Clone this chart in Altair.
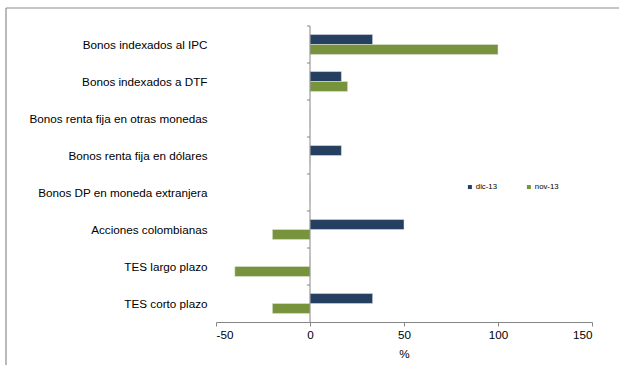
import altair as alt
import pandas as pd

# Categories top to bottom
categorias = [
    "Bonos indexados al IPC",
    "Bonos indexados a DTF",
    "Bonos renta fija en otras monedas",
    "Bonos renta fija en dólares",
    "Bonos DP en moneda extranjera",
    "Acciones colombianas",
    "TES largo plazo",
    "TES corto plazo",
]
series = ["dic-13", "nov-13"]
dic_13 = [33.3, 16.7, 0, 16.7, 0, 50, 0, 33.3]
nov_13 = [100, 20, 0, 0, 0, -20, -40, -20]
colores = ["#243F60", "#77933C"]
x_ticks = [-50, 0, 50, 100, 150]

rows = []
for cat, d, n in zip(categorias, dic_13, nov_13):
    rows.append({"categoria": cat, "serie": series[0], "valor": d})
    rows.append({"categoria": cat, "serie": series[1], "valor": n})
df = pd.DataFrame(rows)

axis_gray = "#868686"
font = "Liberation Sans"
fs = 11.7

y_scale = alt.Scale(domain=categorias, paddingInner=0, paddingOuter=0)
x_scale = alt.Scale(domain=[-50, 150], nice=False)

bars = alt.Chart(df).mark_bar(stroke="#e6e6e6", strokeWidth=0.5).encode(
    y=alt.Y("categoria:N", sort=categorias, scale=y_scale,
            axis=alt.Axis(title=None, domain=False, ticks=False, labelPadding=9,
                          labelFontSize=fs, labelColor="#000000", labelFont=font,
                          labelLimit=300)),
    x=alt.X("valor:Q", scale=x_scale,
            axis=alt.Axis(title="%", values=x_ticks, grid=False,
                          labelExpr="'' + datum.value",
                          domainColor=axis_gray, tickColor=axis_gray, tickSize=4,
                          labelFontSize=fs, labelColor="#000000", labelFont=font,
                          labelPadding=3, titleFont=font, titleFontSize=fs,
                          titleFontWeight="normal", titleColor="#000000",
                          titlePadding=8)),
    yOffset=alt.YOffset("serie:N", sort=series,
                        scale=alt.Scale(domain=series, paddingInner=0, paddingOuter=0.86)),
    color=alt.Color("serie:N", sort=series,
                    scale=alt.Scale(domain=series, range=colores),
                    legend=alt.Legend(title=None, orient="none", legendX=250, legendY=157,
                                      direction="horizontal", symbolType="square",
                                      symbolSize=16, symbolStrokeWidth=0,
                                      labelFontSize=7.8, labelFont=font,
                                      labelColor="#000000", labelOffset=2,
                                      columnPadding=27, padding=0)),
)

# Vertical axis line at zero with small ticks between categories
zero_line = alt.Chart(pd.DataFrame({"v": [0]})).mark_rule(color=axis_gray, strokeWidth=1).encode(
    x=alt.X("v:Q", scale=x_scale)
)
tick_df = pd.DataFrame({"categoria": categorias, "x0": [-1.6] * len(categorias), "x1": [0] * len(categorias)})
ticks = alt.Chart(tick_df).mark_rule(color=axis_gray, strokeWidth=1).encode(
    y=alt.Y("categoria:N", sort=categorias, scale=y_scale, bandPosition=0),
    x=alt.X("x0:Q", scale=x_scale),
    x2="x1:Q",
)

# Outer frame (top and left edges)
frame_top = alt.Chart(pd.DataFrame({"a": [0]})).mark_rule(color="#8c8c8c", strokeWidth=1.2).encode(
    x=alt.value(-210), x2=alt.value(403), y=alt.value(-18)
)
frame_left = alt.Chart(pd.DataFrame({"a": [0]})).mark_rule(color="#8c8c8c", strokeWidth=1.2).encode(
    x=alt.value(-210), y=alt.value(-18), y2=alt.value(339)
)

chart = alt.layer(bars, zero_line, ticks, frame_top, frame_left).properties(
    width=376,
    height=296,
    padding={"left": 216, "top": 26, "right": 27, "bottom": 43},
    autosize=alt.AutoSizeParams(type="none"),
    background="white",
).configure_view(stroke=None)

chart.save("out.html", embed_options={"renderer": "svg", "actions": False})
